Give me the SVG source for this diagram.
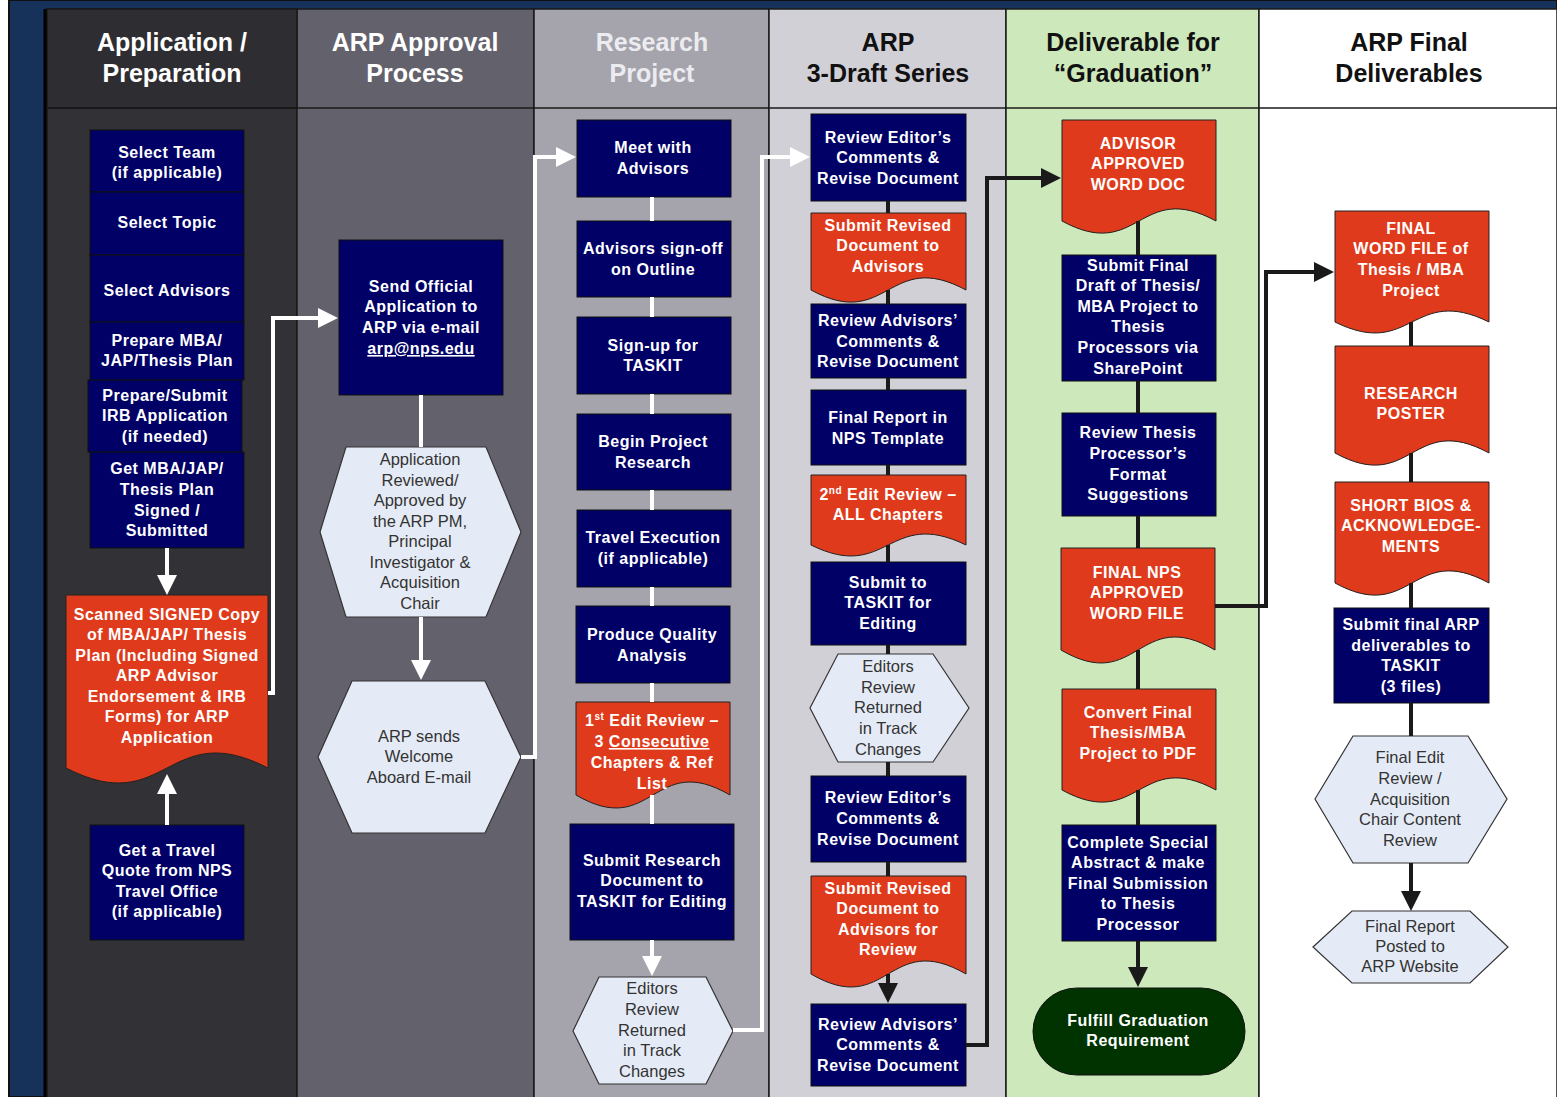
<svg xmlns="http://www.w3.org/2000/svg" width="1557" height="1097" viewBox="0 0 1557 1097">
<style>
.col{stroke:#1a1a1a;stroke-width:1.5}
.hd{font-family:"Liberation Sans",Arial,sans-serif;font-weight:bold;font-size:25px;text-anchor:middle}
.box{fill:#000066;stroke:#111;stroke-width:1}
.doc{fill:#df3a1b;stroke:#222;stroke-width:1}
.hex{fill:#e5ebf6;stroke:#333;stroke-width:1.2}
.stad{fill:#003300;stroke:#111;stroke-width:1}
.bt{font-family:"Liberation Sans",Arial,sans-serif;font-weight:bold;font-size:16px;fill:#fff;text-anchor:middle;letter-spacing:0.5px}
.ht{font-family:"Liberation Sans",Arial,sans-serif;font-size:16.5px;fill:#333;text-anchor:middle}
.wc{fill:none;stroke:#fff;stroke-width:4}
.bc{fill:none;stroke:#1a1a1a;stroke-width:4}
</style>
<defs>
<marker id="aw" markerUnits="userSpaceOnUse" viewBox="0 0 20 20" markerWidth="20" markerHeight="20" refX="16" refY="10" orient="auto"><path d="M0 0L20 10L0 20Z" fill="#fff"/></marker>
<marker id="ab" markerUnits="userSpaceOnUse" viewBox="0 0 20 20" markerWidth="20" markerHeight="20" refX="16" refY="10" orient="auto"><path d="M0 0L20 10L0 20Z" fill="#1a1a1a"/></marker>
</defs>
<rect x="0" y="0" width="1557" height="1097" fill="#fff"/>
<rect x="9" y="0" width="1548" height="1097" fill="#17325a" stroke="#111" stroke-width="2"/>
<g id="lanes">
<rect class="col" x="47" y="9" width="250" height="1090" fill="#323135"/>
<rect class="col" x="297" y="9" width="237" height="1090" fill="#63626c"/>
<rect class="col" x="534" y="9" width="235" height="1090" fill="#a5a4ac"/>
<rect class="col" x="769" y="9" width="237" height="1090" fill="#d1d0d6"/>
<rect class="col" x="1006" y="9" width="253" height="1090" fill="#cde9bc"/>
<rect class="col" x="1259" y="9" width="298" height="1090" fill="#ffffff"/>
<rect x="47" y="9" width="250" height="99" fill="#2e2d31" stroke="#1a1a1a" stroke-width="1.5"/>
<line x1="47" y1="108" x2="1557" y2="108" stroke="#1a1a1a" stroke-width="1.5"/>
<line x1="45" y1="9" x2="45" y2="1097" stroke="#000" stroke-width="3"/>
<text class="hd" fill="#fff"><tspan x="172" y="51">Application /</tspan><tspan x="172" y="82">Preparation</tspan></text>
<text class="hd" fill="#fff"><tspan x="415" y="51">ARP Approval</tspan><tspan x="415" y="82">Process</tspan></text>
<text class="hd" fill="#ececf0"><tspan x="652" y="51">Research</tspan><tspan x="652" y="82">Project</tspan></text>
<text class="hd" fill="#111"><tspan x="888" y="51">ARP</tspan><tspan x="888" y="82">3-Draft Series</tspan></text>
<text class="hd" fill="#111"><tspan x="1133" y="51">Deliverable for</tspan><tspan x="1133" y="82">“Graduation”</tspan></text>
<text class="hd" fill="#111"><tspan x="1409" y="51">ARP Final</tspan><tspan x="1409" y="82">Deliverables</tspan></text>
</g>

<g id="n_team"><rect class="box" x="90" y="130" width="154" height="62"/><text class="bt"><tspan x="167" y="158">Select Team</tspan><tspan x="167" y="178">(if applicable)</tspan></text></g>
<g id="n_topic"><rect class="box" x="90" y="192" width="154" height="63"/><text class="bt" x="167" y="228">Select Topic</text></g>
<g id="n_advisors"><rect class="box" x="90" y="255" width="154" height="67"/><text class="bt" x="167" y="296">Select Advisors</text></g>
<g id="n_plan"><rect class="box" x="90" y="322" width="154" height="58"/><text class="bt"><tspan x="167" y="346">Prepare MBA/</tspan><tspan x="167" y="366">JAP/Thesis Plan</tspan></text></g>
<g id="n_irb"><rect class="box" x="88" y="380" width="154" height="72"/><text class="bt"><tspan x="165" y="401">Prepare/Submit</tspan><tspan x="165" y="421">IRB Application</tspan><tspan x="165" y="442">(if needed)</tspan></text></g>
<g id="n_signed"><rect class="box" x="90" y="452" width="154" height="96"/><text class="bt"><tspan x="167" y="474">Get MBA/JAP/</tspan><tspan x="167" y="495">Thesis Plan</tspan><tspan x="167" y="516">Signed /</tspan><tspan x="167" y="536">Submitted</tspan></text></g>
<g id="n_scanned"><path class="doc" d="M66 595H268V768C167 716 167 820 66 768Z"/><text class="bt"><tspan x="167" y="620">Scanned SIGNED Copy</tspan><tspan x="167" y="640">of MBA/JAP/ Thesis</tspan><tspan x="167" y="661">Plan (Including Signed</tspan><tspan x="167" y="681">ARP Advisor</tspan><tspan x="167" y="702">Endorsement &amp; IRB</tspan><tspan x="167" y="722">Forms) for ARP</tspan><tspan x="167" y="743">Application</tspan></text></g>
<g id="n_travelquote"><rect class="box" x="90" y="825" width="154" height="115"/><text class="bt"><tspan x="167" y="856">Get a Travel</tspan><tspan x="167" y="876">Quote from NPS</tspan><tspan x="167" y="897">Travel Office</tspan><tspan x="167" y="917">(if applicable)</tspan></text></g>

<g id="n_send"><rect class="box" x="339" y="240" width="164" height="155"/><text class="bt"><tspan x="421" y="292">Send Official</tspan><tspan x="421" y="312">Application to</tspan><tspan x="421" y="333">ARP via e-mail</tspan><tspan x="421" y="354" text-decoration="underline">arp@nps.edu</tspan></text></g>
<g id="n_reviewed"><polygon class="hex" points="320,532 346,447 486,447 521,532 486,617 346,617"/><text class="ht"><tspan x="420" y="465">Application</tspan><tspan x="420" y="486">Reviewed/</tspan><tspan x="420" y="506">Approved by</tspan><tspan x="420" y="527">the ARP PM,</tspan><tspan x="420" y="547">Principal</tspan><tspan x="420" y="568">Investigator &amp;</tspan><tspan x="420" y="588">Acquisition</tspan><tspan x="420" y="609">Chair</tspan></text></g>
<g id="n_welcome"><polygon class="hex" points="318,757 352,681 485,681 521,757 485,833 352,833"/><text class="ht"><tspan x="419" y="742">ARP sends</tspan><tspan x="419" y="762">Welcome</tspan><tspan x="419" y="783">Aboard E-mail</tspan></text></g>

<g id="n_meet"><rect class="box" x="577" y="120" width="154" height="77"/><text class="bt"><tspan x="653" y="153">Meet with</tspan><tspan x="653" y="174">Advisors</tspan></text></g>
<g id="n_signoff"><rect class="box" x="577" y="221" width="154" height="76"/><text class="bt"><tspan x="653" y="254">Advisors sign-off</tspan><tspan x="653" y="275">on Outline</tspan></text></g>
<g id="n_signup"><rect class="box" x="577" y="317" width="154" height="77"/><text class="bt"><tspan x="653" y="351">Sign-up for</tspan><tspan x="653" y="371">TASKIT</tspan></text></g>
<g id="n_begin"><rect class="box" x="577" y="414" width="154" height="76"/><text class="bt"><tspan x="653" y="447">Begin Project</tspan><tspan x="653" y="468">Research</tspan></text></g>
<g id="n_travelexec"><rect class="box" x="577" y="510" width="154" height="77"/><text class="bt"><tspan x="653" y="543">Travel Execution</tspan><tspan x="653" y="564">(if applicable)</tspan></text></g>
<g id="n_quality"><rect class="box" x="576" y="606" width="154" height="77"/><text class="bt"><tspan x="652" y="640">Produce Quality</tspan><tspan x="652" y="661">Analysis</tspan></text></g>
<g id="n_edit1"><path class="doc" d="M576 702H730V795C653 750 653 840 576 795Z"/><text class="bt"><tspan x="652" y="726">1<tspan font-size="10" dy="-6">st</tspan><tspan dy="6"> Edit Review –</tspan></tspan><tspan x="652" y="747">3 <tspan text-decoration="underline">Consecutive</tspan></tspan><tspan x="652" y="768">Chapters &amp; Ref</tspan><tspan x="652" y="789">List</tspan></text></g>
<g id="n_submitresearch"><rect class="box" x="570" y="824" width="164" height="116"/><text class="bt"><tspan x="652" y="866">Submit Research</tspan><tspan x="652" y="886">Document to</tspan><tspan x="652" y="907">TASKIT for Editing</tspan></text></g>
<g id="n_editors1"><polygon class="hex" points="573,1031 599,977 706,977 733,1031 706,1084 599,1084"/><text class="ht"><tspan x="652" y="994">Editors</tspan><tspan x="652" y="1015">Review</tspan><tspan x="652" y="1036">Returned</tspan><tspan x="652" y="1056">in Track</tspan><tspan x="652" y="1077">Changes</tspan></text></g>

<g id="n_rev1"><rect class="box" x="811" y="114" width="155" height="87"/><text class="bt"><tspan x="888" y="143">Review Editor’s</tspan><tspan x="888" y="163">Comments &amp;</tspan><tspan x="888" y="184">Revise Document</tspan></text></g>
<g id="n_subrev1"><path class="doc" d="M811 213H966V290C888 248 888 332 811 290Z"/><text class="bt"><tspan x="888" y="231">Submit Revised</tspan><tspan x="888" y="251">Document to</tspan><tspan x="888" y="272">Advisors</tspan></text></g>
<g id="n_revadv1"><rect class="box" x="811" y="304" width="155" height="74"/><text class="bt"><tspan x="888" y="326">Review Advisors’</tspan><tspan x="888" y="347">Comments &amp;</tspan><tspan x="888" y="367">Revise Document</tspan></text></g>
<g id="n_finalreport"><rect class="box" x="811" y="390" width="155" height="75"/><text class="bt"><tspan x="888" y="423">Final Report in</tspan><tspan x="888" y="444">NPS Template</tspan></text></g>
<g id="n_edit2"><path class="doc" d="M811 475H966V545C888 507 888 583 811 545Z"/><text class="bt"><tspan x="888" y="500">2<tspan font-size="10" dy="-6">nd</tspan><tspan dy="6"> Edit Review –</tspan></tspan><tspan x="888" y="520">ALL Chapters</tspan></text></g>
<g id="n_subtaskit"><rect class="box" x="811" y="562" width="155" height="83"/><text class="bt"><tspan x="888" y="588">Submit to</tspan><tspan x="888" y="608">TASKIT for</tspan><tspan x="888" y="629">Editing</tspan></text></g>
<g id="n_editors2"><polygon class="hex" points="810,708 838,654 933,654 969,708 933,762 838,762"/><text class="ht"><tspan x="888" y="672">Editors</tspan><tspan x="888" y="693">Review</tspan><tspan x="888" y="713">Returned</tspan><tspan x="888" y="734">in Track</tspan><tspan x="888" y="755">Changes</tspan></text></g>
<g id="n_rev2"><rect class="box" x="811" y="776" width="155" height="86"/><text class="bt"><tspan x="888" y="803">Review Editor’s</tspan><tspan x="888" y="824">Comments &amp;</tspan><tspan x="888" y="845">Revise Document</tspan></text></g>
<g id="n_subrev2"><path class="doc" d="M811 876H966V974C888 929 888 1019 811 974Z"/><text class="bt"><tspan x="888" y="894">Submit Revised</tspan><tspan x="888" y="914">Document to</tspan><tspan x="888" y="935">Advisors for</tspan><tspan x="888" y="955">Review</tspan></text></g>
<g id="n_revadv2"><rect class="box" x="811" y="1004" width="155" height="82"/><text class="bt"><tspan x="888" y="1030">Review Advisors’</tspan><tspan x="888" y="1050">Comments &amp;</tspan><tspan x="888" y="1071">Revise Document</tspan></text></g>

<g id="n_advisorapproved"><path class="doc" d="M1062 120H1216V221C1139 179 1139 263 1062 221Z"/><text class="bt"><tspan x="1138" y="149">ADVISOR</tspan><tspan x="1138" y="169">APPROVED</tspan><tspan x="1138" y="190">WORD DOC</tspan></text></g>
<g id="n_subfinal"><rect class="box" x="1062" y="255" width="154" height="126"/><text class="bt"><tspan x="1138" y="271">Submit Final</tspan><tspan x="1138" y="291">Draft of Thesis/</tspan><tspan x="1138" y="312">MBA Project to</tspan><tspan x="1138" y="332">Thesis</tspan><tspan x="1138" y="353">Processors via</tspan><tspan x="1138" y="374">SharePoint</tspan></text></g>
<g id="n_revthesis"><rect class="box" x="1062" y="413" width="154" height="103"/><text class="bt"><tspan x="1138" y="438">Review Thesis</tspan><tspan x="1138" y="459">Processor’s</tspan><tspan x="1138" y="480">Format</tspan><tspan x="1138" y="500">Suggestions</tspan></text></g>
<g id="n_finalnps"><path class="doc" d="M1061 548H1215V650C1138 605 1138 695 1061 650Z"/><text class="bt"><tspan x="1137" y="578">FINAL NPS</tspan><tspan x="1137" y="598">APPROVED</tspan><tspan x="1137" y="619">WORD FILE</tspan></text></g>
<g id="n_convert"><path class="doc" d="M1062 689H1216V790C1139 748 1139 832 1062 790Z"/><text class="bt"><tspan x="1138" y="718">Convert Final</tspan><tspan x="1138" y="738">Thesis/MBA</tspan><tspan x="1138" y="759">Project to PDF</tspan></text></g>
<g id="n_complete"><rect class="box" x="1062" y="825" width="154" height="116"/><text class="bt"><tspan x="1138" y="848">Complete Special</tspan><tspan x="1138" y="868">Abstract &amp; make</tspan><tspan x="1138" y="889">Final Submission</tspan><tspan x="1138" y="909">to Thesis</tspan><tspan x="1138" y="930">Processor</tspan></text></g>
<g id="n_fulfill"><rect class="stad" x="1033" y="988" width="212" height="87" rx="44" ry="43.5"/><text class="bt"><tspan x="1138" y="1026">Fulfill Graduation</tspan><tspan x="1138" y="1046">Requirement</tspan></text></g>

<g id="n_finalword"><path class="doc" d="M1335 211H1489V322C1412 284 1412 360 1335 322Z"/><text class="bt"><tspan x="1411" y="234">FINAL</tspan><tspan x="1411" y="254">WORD FILE of</tspan><tspan x="1411" y="275">Thesis / MBA</tspan><tspan x="1411" y="296">Project</tspan></text></g>
<g id="n_poster"><path class="doc" d="M1335 346H1489V453C1412 411 1412 495 1335 453Z"/><text class="bt"><tspan x="1411" y="399">RESEARCH</tspan><tspan x="1411" y="419">POSTER</tspan></text></g>
<g id="n_bios"><path class="doc" d="M1335 482H1489V583C1412 541 1412 625 1335 583Z"/><text class="bt"><tspan x="1411" y="511">SHORT BIOS &amp;</tspan><tspan x="1411" y="531">ACKNOWLEDGE-</tspan><tspan x="1411" y="552">MENTS</tspan></text></g>
<g id="n_submitarp"><rect class="box" x="1334" y="608" width="155" height="95"/><text class="bt"><tspan x="1411" y="630">Submit final ARP</tspan><tspan x="1411" y="651">deliverables to</tspan><tspan x="1411" y="671">TASKIT</tspan><tspan x="1411" y="692">(3 files)</tspan></text></g>
<g id="n_finaledit"><polygon class="hex" points="1315,799 1353,736 1468,736 1507,799 1468,863 1353,863"/><text class="ht"><tspan x="1410" y="763">Final Edit</tspan><tspan x="1410" y="784">Review /</tspan><tspan x="1410" y="805">Acquisition</tspan><tspan x="1410" y="825">Chair Content</tspan><tspan x="1410" y="846">Review</tspan></text></g>
<g id="n_posted"><polygon class="hex" points="1313,947 1352,911 1470,911 1508,947 1470,983 1352,983"/><text class="ht"><tspan x="1410" y="932">Final Report</tspan><tspan x="1410" y="952">Posted to</tspan><tspan x="1410" y="972">ARP Website</tspan></text></g>

<g id="connectors">
<path class="wc" d="M167 548V591" marker-end="url(#aw)"/>
<path class="wc" d="M167 825V778" marker-end="url(#aw)"/>
<path class="wc" d="M268 693H273V318H334" marker-end="url(#aw)"/>
<path class="wc" d="M421 395V447"/>
<path class="wc" d="M421 617V676" marker-end="url(#aw)"/>
<path class="wc" d="M521 757H535V157H572" marker-end="url(#aw)"/>
<path class="wc" d="M652 197V221M652 297V317M652 394V414M652 490V510M652 587V606M652 683V702M652 795V824"/>
<path class="wc" d="M652 940V972" marker-end="url(#aw)"/>
<path class="wc" d="M733 1030H762V157H806" marker-end="url(#aw)"/>
<path class="bc" d="M888 201V213M888 290V304M888 378V390M888 465V475M888 545V562M888 645V654M888 762V776M888 862V876"/>
<path class="bc" d="M888 974V999" marker-end="url(#ab)"/>
<path class="bc" d="M966 1045H987V178H1057" marker-end="url(#ab)"/>
<path class="bc" d="M1138 221V255M1138 381V413M1138 516V548M1138 650V689M1138 790V825"/>
<path class="bc" d="M1138 941V983" marker-end="url(#ab)"/>
<path class="bc" d="M1215 606H1266V272H1330" marker-end="url(#ab)"/>
<path class="bc" d="M1411 322V346M1411 453V482M1411 583V608M1411 703V736"/>
<path class="bc" d="M1411 863V907" marker-end="url(#ab)"/>
</g>
</svg>
